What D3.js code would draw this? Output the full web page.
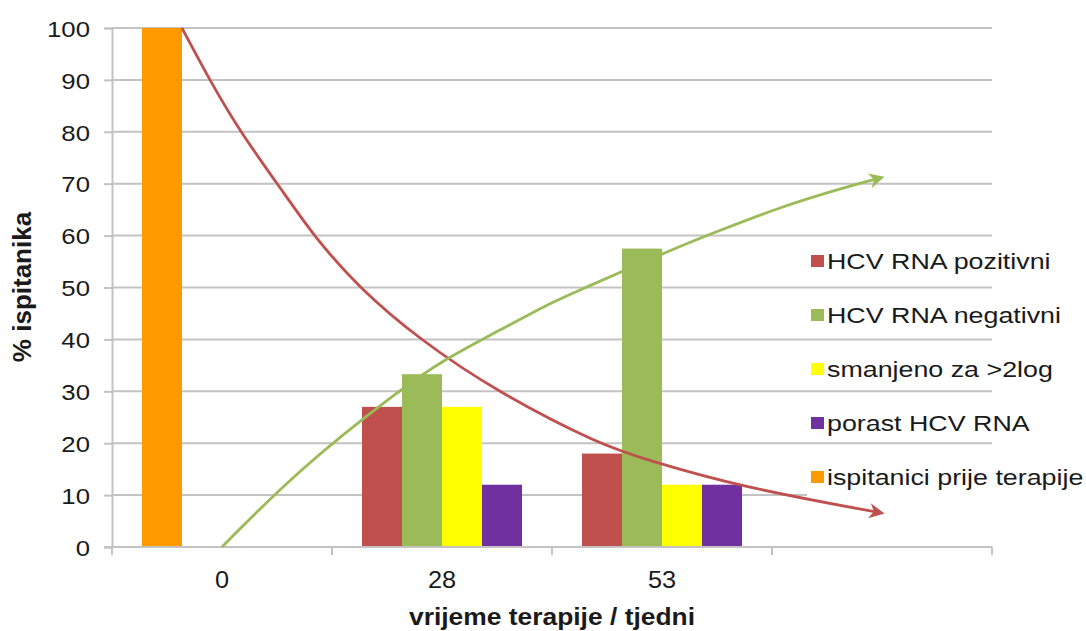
<!DOCTYPE html>
<html>
<head>
<meta charset="utf-8">
<script src="https://cdn.jsdelivr.net/npm/d3@7"></script>
<style>
  html, body { margin: 0; padding: 0; background: #ffffff; }
  svg { display: block; font-family: "Liberation Sans", Arial, sans-serif; }
</style>
</head>
<body>
<svg id="chart" width="1086" height="631"></svg>
<script>
// Week of therapy (the fourth category is left unlabelled)
const weeks = ["0", "28", "53", ""];

// Share of patients (%) per series and week
const pozitivni     = [null, 27, 18, null];
const negativni     = [null, 33.3, 57.5, null];
const smanjeno      = [null, 27, 12, null];
const porast        = [null, 12, 12, null];
const prijeTerapije = [100, null, null, null];

const seriesNames  = ["HCV RNA pozitivni", "HCV RNA negativni", "smanjeno za >2log", "porast HCV RNA", "ispitanici prije terapije"];
const seriesColors = ["#c0504d", "#9bbb59", "#ffff00", "#7030a0", "#ff9900"];
const seriesValues = [pozitivni, negativni, smanjeno, porast, prijeTerapije];
// slot inside the category cluster (baseline bar takes the first slot)
const seriesSlot   = [0, 1, 2, 3, 0];

const yTicks = [0, 10, 20, 30, 40, 50, 60, 70, 80, 90, 100];

// Trend arrows, x in category units (category i spans i..i+1), y in %
const declineX = [0.318, 0.45, 0.582, 0.795, 0.914, 1.118, 1.400, 1.750, 2.218, 2.432, 2.855, 3.491];
const declineY = [100, 89.5, 80.0, 67.4, 60.1, 50.1, 39.9, 29.9, 19.7, 16.8, 11.6, 6.6];
const responseX = [0.5, 0.855, 1.309, 1.505, 1.764, 1.991, 2.127, 2.505, 2.732, 3.036, 3.341, 3.491];
const responseY = [0, 15.2, 30.3, 36.0, 41.8, 47.0, 49.5, 56.6, 60.5, 65.5, 69.4, 71.1];

const svg = d3.select("#chart");
const plotLeft = 112, plotRight = 992, plotTop = 28, plotBottom = 547;
const gridColor = "#c3c3c3";
const textColor = "#1a1a1a";

const x = d3.scaleBand().domain(d3.range(weeks.length)).range([plotLeft, plotRight]).padding(0);
const slot = d3.scaleBand().domain([0, 1, 2, 3]).range([30, 190]).padding(0);
const xc = d3.scaleLinear().domain([0, weeks.length]).range([plotLeft, plotRight]);
const y = d3.scaleLinear().domain([0, 100]).range([plotBottom, plotTop]);

// horizontal gridlines
svg.append("g").selectAll("line").data(yTicks.filter(d => d > 0)).join("line")
  .attr("x1", plotLeft).attr("x2", plotRight)
  .attr("y1", d => y(d)).attr("y2", d => y(d))
  .attr("stroke", gridColor).attr("stroke-width", 2);

// y axis with labels
const yAxis = svg.append("g").attr("transform", `translate(${plotLeft},0)`)
  .call(d3.axisLeft(y).tickValues(yTicks).tickSize(8).tickPadding(0).tickFormat(d3.format("d")));
yAxis.select(".domain").attr("stroke", gridColor).attr("stroke-width", 2);
yAxis.selectAll(".tick line").attr("stroke", gridColor).attr("stroke-width", 2);
yAxis.selectAll(".tick text").remove();
yAxis.selectAll(".tick").append("g")
  .attr("transform", "translate(-22,0) scale(1.12,1)")
  .append("text")
  .attr("text-anchor", "end").attr("dy", "0.36em")
  .attr("font-size", 23).attr("fill", textColor)
  .text(d => d);

// bars
const barData = [];
seriesValues.forEach((vals, s) => vals.forEach((v, i) => {
  if (v != null) barData.push({ s, i, v });
}));
svg.append("g").selectAll("rect").data(barData).join("rect")
  .attr("x", d => x(d.i) + slot(seriesSlot[d.s]))
  .attr("width", slot.bandwidth())
  .attr("y", d => y(d.v))
  .attr("height", d => y(0) - y(d.v))
  .attr("fill", d => seriesColors[d.s]);

// x axis with tick marks at category boundaries
const xAxisG = svg.append("g");
xAxisG.append("line").attr("x1", plotLeft - 8).attr("x2", plotRight)
  .attr("y1", plotBottom).attr("y2", plotBottom)
  .attr("stroke", gridColor).attr("stroke-width", 2);
xAxisG.selectAll("line.tk").data(d3.range(weeks.length + 1)).join("line").attr("class", "tk")
  .attr("x1", d => xc(d)).attr("x2", d => xc(d))
  .attr("y1", plotBottom).attr("y2", plotBottom + 8)
  .attr("stroke", gridColor).attr("stroke-width", 2);
xAxisG.selectAll("g.lbl").data(weeks).join("g").attr("class", "lbl")
  .attr("transform", (d, i) => `translate(${x(i) + x.bandwidth() / 2},${plotBottom + 41}) scale(1.1,1)`)
  .append("text").attr("text-anchor", "middle")
  .attr("font-size", 23).attr("fill", textColor)
  .text(d => d);

// axis titles
svg.append("g").attr("transform", `translate(${(plotLeft + plotRight) / 2},625) scale(1.1,1)`)
  .append("text").attr("text-anchor", "middle")
  .attr("font-size", 24).attr("font-weight", "bold").attr("fill", textColor)
  .text("vrijeme terapije / tjedni");
svg.append("text")
  .attr("transform", "translate(31,287) rotate(-90)")
  .attr("text-anchor", "middle")
  .attr("font-size", 26).attr("font-weight", "bold").attr("fill", textColor)
  .text("% ispitanika");

// legend
const legend = svg.append("g");
legend.append("rect").attr("x", 807).attr("y", 462).attr("width", 279).attr("height", 40).attr("fill", "#ffffff");
const rows = legend.selectAll("g.row").data(seriesNames).join("g").attr("class", "row")
  .attr("transform", (d, i) => `translate(811,${269 + i * 54})`);
rows.append("rect").attr("x", 0).attr("y", -14).attr("width", 13).attr("height", 12)
  .attr("fill", (d, i) => seriesColors[i]);
rows.append("g").attr("transform", "translate(16,0) scale(1.22,1)")
  .append("text").attr("font-size", 22).attr("fill", textColor)
  .text(d => d);

// trend arrows
const defs = svg.append("defs");
[["arrRed", seriesColors[0]], ["arrGreen", seriesColors[1]]].forEach(([id, c]) => {
  defs.append("marker").attr("id", id).attr("viewBox", "0 0 10 10")
    .attr("refX", 7).attr("refY", 5).attr("markerWidth", 5.5).attr("markerHeight", 5.5)
    .attr("orient", "auto")
    .append("path").attr("d", "M0,0 L10,5 L0,10 L3,5 Z").attr("fill", c);
});
const trend = d3.line().x(d => xc(d[0])).y(d => y(d[1])).curve(d3.curveBasis);
svg.append("path").datum(declineX.map((v, i) => [v, declineY[i]]))
  .attr("d", trend).attr("fill", "none")
  .attr("stroke", seriesColors[0]).attr("stroke-width", 2.8)
  .attr("marker-end", "url(#arrRed)");
svg.append("path").datum(responseX.map((v, i) => [v, responseY[i]]))
  .attr("d", trend).attr("fill", "none")
  .attr("stroke", seriesColors[1]).attr("stroke-width", 2.8)
  .attr("marker-end", "url(#arrGreen)");
</script>
</body>
</html>
